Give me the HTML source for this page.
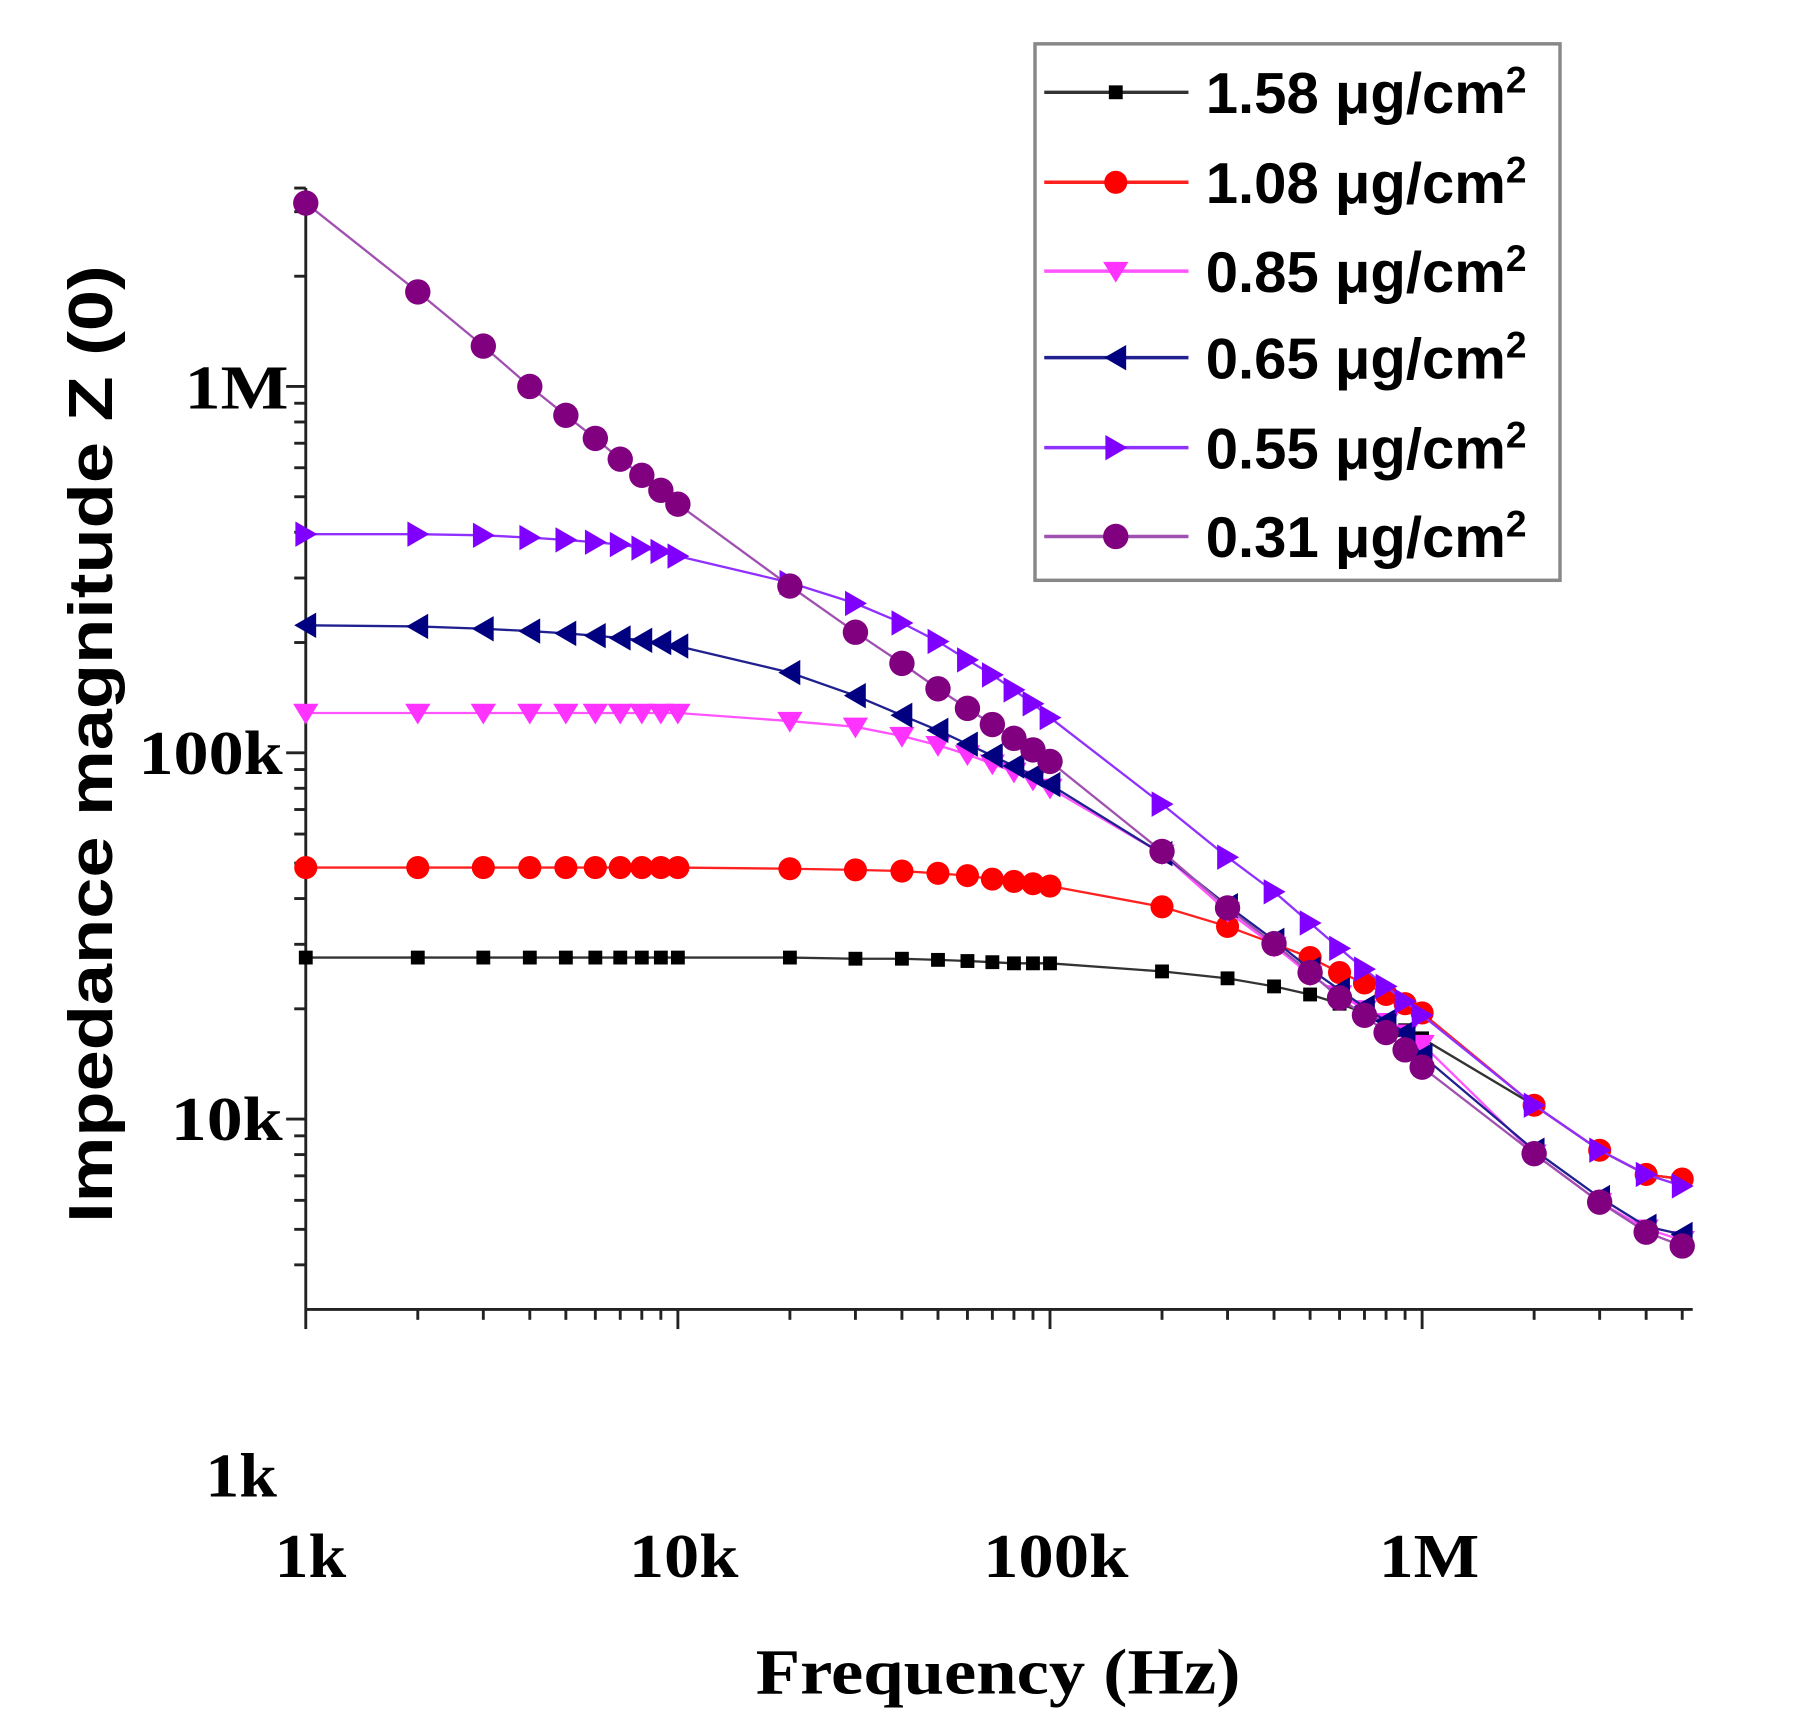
<!DOCTYPE html>
<html><head><meta charset="utf-8"><style>html,body{margin:0;padding:0;background:#fff}svg{display:block}</style></head>
<body>
<svg id="s" width="1800" height="1734" viewBox="0 0 1560 1503" preserveAspectRatio="none" xmlns="http://www.w3.org/2000/svg">
<rect width="1560" height="1503" fill="#fff"/>
<g id="axes" stroke="#222" stroke-width="2.5" fill="none"></g>
<g id="data"></g>
<g font-family="Liberation Serif, serif" font-weight="bold" font-size="54" fill="#000" lengthAdjust="spacingAndGlyphs">
<text x="160" y="354" textLength="90" lengthAdjust="spacingAndGlyphs">1M</text>
<text x="120" y="671" textLength="125" lengthAdjust="spacingAndGlyphs">100k</text>
<text x="148" y="988" textLength="97" lengthAdjust="spacingAndGlyphs">10k</text>
<text x="178" y="1297" textLength="62" lengthAdjust="spacingAndGlyphs">1k</text>
<text x="238" y="1367" textLength="62" lengthAdjust="spacingAndGlyphs">1k</text>
<text x="545" y="1367" textLength="95" lengthAdjust="spacingAndGlyphs">10k</text>
<text x="852" y="1367" textLength="126" lengthAdjust="spacingAndGlyphs">100k</text>
<text x="1195" y="1367" textLength="87" lengthAdjust="spacingAndGlyphs">1M</text>
<text x="655" y="1468" font-size="56" textLength="420" lengthAdjust="spacingAndGlyphs">Frequency (Hz)</text>
</g>
<text transform="translate(97,1060) rotate(-90)" textLength="830" lengthAdjust="spacingAndGlyphs" font-family="Liberation Sans, sans-serif" font-weight="bold" font-size="54">Impedance magnitude Z (0)</text>
<rect x="897" y="38" width="455" height="465" fill="#fff" stroke="#888" stroke-width="3"/>
<g id="leg" font-family="Liberation Sans, sans-serif" font-weight="bold" font-size="50" fill="#000"></g>
</svg>
<script>
const NS="http://www.w3.org/2000/svg";
function el(p,t,a,txt){const e=document.createElementNS(NS,t);for(const k in a)e.setAttribute(k,a[k]);if(txt)e.textContent=txt;p.appendChild(e);return e;}
const X=f=>265+322.5*Math.log10(f/1000);
const ax=document.getElementById('axes');
el(ax,'line',{x1:265,y1:163,x2:265,y2:1135});
el(ax,'line',{x1:265,y1:1135,x2:1467,y2:1135});
for(let d=3;d<=6;d++){for(let m=1;m<=9;m++){const v=d+Math.log10(m);const y=335-(v-6)*317.5;if(y<163||y>1135)continue;el(ax,'line',{x1:265,y1:y,x2:m==1?248:255,y2:y});}}
el(ax,'line',{x1:255,y1:163,x2:265,y2:163});
for(let d=3;d<=6;d++){for(let m=1;m<=9;m++){const f=Math.pow(10,d)*m;const x=X(f);if(x>1467)continue;el(ax,'line',{x1:x,y1:1135,x2:x,y2:m==1?1152:1144});}}
const F=[1e3,2e3,3e3,4e3,5e3,6e3,7e3,8e3,9e3,1e4,2e4,3e4,4e4,5e4,6e4,7e4,8e4,9e4,1e5,2e5,3e5,4e5,5e5,6e5,7e5,8e5,9e5,1e6,2e6,3e6,4e6,5e6];
const S=[
{c:'#000',lc:'#333',m:'sq',l:'1.58',y:[830,830,830,830,830,830,830,830,830,830,830,831,831,832,833,834,835,835,835,842,848,855,862,870,878,886,893,900,958,997,1018,1022]},
{c:'#ff0000',lc:'#ff2020',m:'ci',l:'1.08',y:[752,752,752,752,752,752,752,752,752,752,753,754,755,757,759,762,764,766,768,786,803,818,830,843,852,862,870,878,958,997,1018,1022]},
{c:'#ff33ff',lc:'#ff55ff',m:'dn',l:'0.85',y:[618,618,618,618,618,618,618,618,618,618,625,630,638,646,654,662,669,676,683,740,790,820,845,862,875,886,896,905,1000,1042,1065,1075]},
{c:'#000080',lc:'#202090',m:'lt',l:'0.65',y:[542,543,545,547,549,551,553,555,557,560,583,603,620,633,645,655,664,672,680,740,785,815,840,858,873,885,895,915,997,1038,1063,1070]},
{c:'#8000ff',lc:'#9030ff',m:'rt',l:'0.55',y:[463,463,464,466,468,470,472,475,478,482,505,523,540,556,572,585,598,610,622,697,743,773,800,822,840,855,868,880,958,997,1018,1028]},
{c:'#800080',lc:'#a050b0',m:'ci2',l:'0.31',y:[176,253,300,335,360,380,398,412,425,437,508,548,575,597,614,628,640,650,660,738,787,818,843,865,880,895,910,925,1000,1042,1068,1080]}];
function mk(g,m,x,y,c){
 if(m=='sq')el(g,'rect',{x:x-6,y:y-6,width:12,height:12,fill:c});
 else if(m=='ci')el(g,'circle',{cx:x,cy:y,r:10,fill:c});
 else if(m=='ci2')el(g,'circle',{cx:x,cy:y,r:11,fill:c});
 else if(m=='dn')el(g,'polygon',{points:`${x-11},${y-8} ${x+11},${y-8} ${x},${y+10}`,fill:c});
 else if(m=='lt')el(g,'polygon',{points:`${x+9},${y-11} ${x+9},${y+11} ${x-10},${y}`,fill:c});
 else if(m=='rt')el(g,'polygon',{points:`${x-9},${y-11} ${x-9},${y+11} ${x+10},${y}`,fill:c});
}
const dg=document.getElementById('data'),lg=document.getElementById('leg');
const LY=[80,158,235,310,388,465];
S.forEach((s,i)=>{
 const pts=F.map((f,j)=>X(f).toFixed(1)+','+s.y[j]).join(' ');
 el(dg,'polyline',{points:pts,fill:'none',stroke:s.lc,'stroke-width':2});
 F.forEach((f,j)=>mk(dg,s.m,X(f),s.y[j],s.c));
 const y=LY[i];
 el(lg,'line',{x1:905,y1:y,x2:1030,y2:y,stroke:s.lc,'stroke-width':3});
 mk(lg,s.m,967,y,s.c);
 const t=el(lg,'text',{x:1045,y:y+18,textLength:278,lengthAdjust:'spacingAndGlyphs'});
 t.textContent=s.l+' \u03bcg/cm';
 el(t,'tspan',{dy:-18,'font-size':32},'2');
});
</script>
</body></html>
